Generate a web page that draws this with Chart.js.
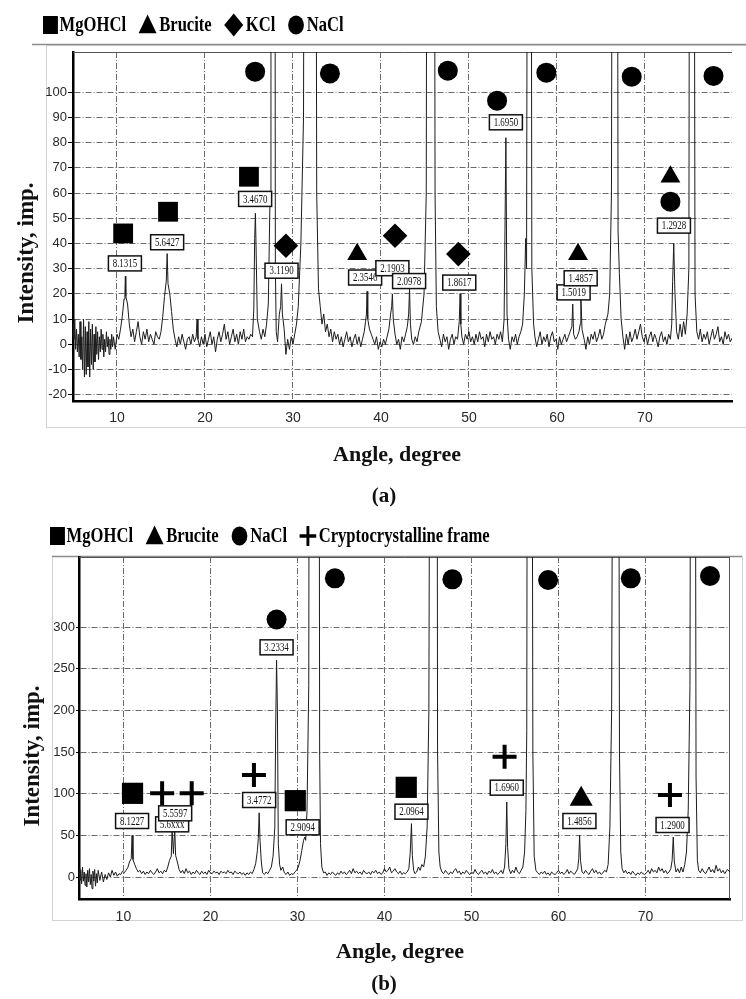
<!DOCTYPE html>
<html>
<head>
<meta charset="utf-8">
<script src="https://cdn.jsdelivr.net/npm/chart.js@4.4.1/dist/chart.umd.min.js"></script>
<style>
  html, body { margin: 0; padding: 0; background: #fff; }
  body { width: 746px; height: 999px; position: relative; overflow: hidden; }
  canvas { position: absolute; left: 0; }
  #chartA { top: 0; }
  #chartB { top: 515px; }
</style>
</head>
<body>
<canvas id="chartA" width="746" height="515"></canvas>
<canvas id="chartB" width="746" height="484"></canvas>
<script>
// ---- data: [angle, intensity] ----
const scanA = [
  [5.0,8],[5.1,2],[5.2,10],[5.3,-2],[5.4,6],[5.5,-3],[5.6,4],[5.7,-5],[5.8,9],[5.9,-6],
  [6.0,3],[6.1,-10],[6.2,10],[6.3,-13],[6.4,7],[6.5,-12],[6.6,5],[6.7,-9],[6.8,9],[6.9,-13],
  [7.0,6],[7.1,-8],[7.2,8],[7.3,-10],[7.4,4],[7.5,-7],[7.6,7],[7.7,-4],[7.8,5],[7.9,-6],
  [8.0,3],[8.1,-3],[8.2,6],[8.3,-2],[8.4,4],[8.5,-5],[8.6,2],[8.7,-3],[8.8,5],[8.9,-1],
  [9.0,3],[9.1,-4],[9.2,2],[9.3,-2],[9.4,4],[9.5,-1],[9.6,3],[9.8,-2],[10.0,4],[10.2,2],
  [10.4,6],[10.6,11],[10.8,18],[10.9,20],[10.95,27],[11.0,19],[11.2,16],[11.4,8],[11.6,3],[11.8,6],
  [12.0,1],[12.2,5],[12.4,9],[12.6,3],[12.8,0],[13.0,5],[13.2,2],[13.4,6],[13.6,1],[13.8,4],
  [14.0,2],[14.2,0],[14.4,5],[14.6,3],[14.8,2],[15.0,5],[15.2,11],[15.4,19],[15.6,25],[15.7,36],
  [15.8,24],[16.0,20],[16.2,13],[16.4,6],[16.6,2],[16.8,-1],[17.0,3],[17.2,0],[17.4,4],[17.6,1],
  [17.8,-2],[18.0,2],[18.2,3],[18.4,0],[18.6,4],[18.8,1],[19.0,3],[19.1,10],[19.2,2],[19.4,-1],
  [19.6,3],[19.8,0],[20.0,4],[20.2,-1],[20.4,2],[20.6,5],[20.8,0],[21.0,3],[21.2,-3],[21.4,2],
  [21.6,5],[21.8,1],[22.0,4],[22.2,8],[22.4,2],[22.6,5],[22.8,0],[23.0,3],[23.2,6],[23.4,1],
  [23.6,4],[23.8,0],[24.0,5],[24.2,2],[24.4,6],[24.6,1],[24.8,3],[25.0,2],[25.2,4],[25.4,3],
  [25.55,14],[25.65,42],[25.73,52],[25.8,40],[25.95,10],[26.2,5],[26.4,2],[26.6,6],[26.8,3],[27.0,8],
  [27.2,16],[27.4,60],[27.5,400],[27.9,400],[28.0,30],[28.1,5],[28.25,1],[28.45,12],[28.6,15],[28.7,24],
  [28.8,12],[29.0,6],[29.2,-4],[29.4,2],[29.6,-2],[29.8,3],[30.0,0],[30.2,4],[30.4,8],[30.6,15],
  [30.9,40],[31.2,90],[31.4,400],[32.5,400],[32.7,60],[32.9,22],[33.1,15],[33.3,8],[33.5,12],[33.7,5],
  [33.9,8],[34.1,3],[34.3,6],[34.5,1],[34.7,5],[34.9,2],[35.1,4],[35.3,0],[35.5,3],[35.7,-1],
  [35.9,2],[36.1,5],[36.3,1],[36.5,3],[36.7,-1],[36.9,2],[37.1,4],[37.3,0],[37.5,3],[37.7,-1],
  [37.9,2],[38.1,5],[38.25,9],[38.35,12],[38.42,21],[38.5,10],[38.7,6],[38.9,4],[39.1,2],[39.3,0],
  [39.5,3],[39.7,-2],[39.9,1],[40.1,-1],[40.3,2],[40.5,0],[40.7,3],[40.9,6],[41.1,12],[41.22,15],
  [41.3,20],[41.4,10],[41.6,4],[41.8,0],[42.0,2],[42.2,-2],[42.4,3],[42.6,1],[42.8,4],[43.0,7],
  [43.15,12],[43.25,22],[43.35,8],[43.5,2],[43.7,0],[43.9,3],[44.1,1],[44.3,5],[44.6,9],[44.9,20],
  [45.15,60],[45.3,400],[46.0,400],[46.15,60],[46.3,15],[46.5,5],[46.7,2],[46.9,-1],[47.1,4],[47.3,1],
  [47.5,3],[47.7,-2],[47.9,2],[48.1,4],[48.3,0],[48.5,3],[48.7,2],[48.9,9],[49.0,20],[49.08,8],
  [49.2,3],[49.4,0],[49.6,4],[49.8,2],[50.0,5],[50.2,1],[50.4,3],[50.6,0],[50.8,4],[51.0,1],
  [51.2,5],[51.4,2],[51.6,3],[51.8,-1],[52.0,4],[52.2,1],[52.4,5],[52.6,2],[52.8,3],[53.0,0],
  [53.2,4],[53.4,2],[53.6,5],[53.8,1],[54.0,10],[54.2,82],[54.33,12],[54.5,2],[54.7,-2],[54.9,3],
  [55.1,1],[55.3,4],[55.5,0],[55.7,3],[55.9,5],[56.1,8],[56.3,20],[56.45,42],[56.55,30],[56.75,400],
  [57.0,400],[57.15,30],[57.35,8],[57.5,3],[57.7,-1],[57.9,2],[58.1,5],[58.3,0],[58.5,3],[58.7,1],
  [58.9,4],[59.1,-1],[59.3,3],[59.5,5],[59.7,1],[59.9,2],[60.1,-2],[60.3,3],[60.5,0],[60.7,2],
  [60.9,4],[61.1,1],[61.3,3],[61.5,5],[61.7,7],[61.8,16],[61.9,4],[62.1,2],[62.3,3],[62.5,5],
  [62.65,8],[62.72,20],[62.85,6],[63.1,2],[63.3,-2],[63.5,3],[63.7,0],[63.9,4],[64.1,2],[64.3,5],
  [64.5,1],[64.7,3],[64.9,6],[65.1,2],[65.3,4],[65.5,8],[65.8,12],[66.0,20],[66.2,60],[66.4,400],
  [66.8,400],[66.95,45],[67.1,28],[67.3,10],[67.5,3],[67.7,-2],[67.9,4],[68.1,0],[68.3,5],[68.5,1],
  [68.7,3],[68.9,6],[69.1,2],[69.3,5],[69.5,8],[69.7,3],[69.9,1],[70.1,4],[70.3,0],[70.5,3],
  [70.7,5],[70.9,1],[71.1,4],[71.3,2],[71.5,-1],[71.7,3],[71.9,5],[72.1,1],[72.3,3],[72.5,0],
  [72.7,4],[72.9,2],[73.05,8],[73.15,25],[73.28,40],[73.4,22],[73.6,5],[73.8,2],[74.0,8],[74.2,3],
  [74.4,9],[74.6,4],[74.8,12],[75.0,30],[75.15,400],[75.5,400],[75.7,20],[75.9,5],[76.1,2],[76.3,6],
  [76.5,1],[76.7,4],[76.9,2],[77.1,5],[77.3,0],[77.5,3],[77.7,6],[77.9,2],[78.1,4],[78.3,7],
  [78.5,1],[78.7,3],[78.9,0],[79.1,5],[79.3,2],[79.5,4],[79.7,1],[80.0,3]
];

const scanB = [
  [4.9,10],[5.0,-4],[5.1,8],[5.2,-8],[5.3,12],[5.4,-5],[5.5,6],[5.6,-10],[5.7,4],[5.8,-12],
  [5.9,8],[6.0,-6],[6.1,10],[6.2,-9],[6.3,3],[6.4,-14],[6.5,7],[6.6,-5],[6.7,9],[6.8,-11],
  [6.9,4],[7.0,-7],[7.1,8],[7.3,-4],[7.5,6],[7.7,-6],[7.9,3],[8.1,-3],[8.3,5],[8.5,0],
  [8.7,8],[8.9,2],[9.1,6],[9.3,1],[9.5,4],[9.7,3],[9.9,7],[10.1,5],[10.3,8],[10.5,11],
  [10.7,18],[10.9,22],[11.0,50],[11.1,21],[11.3,15],[11.5,10],[11.7,6],[11.9,8],[12.1,4],[12.3,7],
  [12.5,3],[12.7,6],[12.9,4],[13.1,8],[13.3,5],[13.5,3],[13.7,6],[13.9,10],[14.1,5],[14.3,7],
  [14.5,4],[14.7,8],[14.9,6],[15.1,12],[15.3,20],[15.5,25],[15.6,56],[15.75,28],[15.9,59],[16.0,26],
  [16.2,18],[16.4,9],[16.6,5],[16.8,8],[17.0,4],[17.2,10],[17.4,5],[17.6,7],[17.8,3],[18.0,6],
  [18.2,4],[18.4,8],[18.6,5],[18.8,3],[19.0,7],[19.2,4],[19.4,6],[19.6,3],[19.8,8],[20.0,5],
  [20.2,4],[20.4,7],[20.6,5],[20.8,6],[21.0,3],[21.2,7],[21.4,5],[21.6,6],[21.8,4],[22.0,8],
  [22.2,5],[22.4,6],[22.6,3],[22.8,7],[23.0,5],[23.2,4],[23.4,6],[23.6,3],[23.8,5],[24.0,2],
  [24.2,5],[24.4,3],[24.6,6],[24.8,4],[25.0,9],[25.2,16],[25.4,32],[25.5,46],[25.6,77],[25.7,44],
  [25.85,18],[26.0,5],[26.2,3],[26.4,6],[26.6,4],[26.8,8],[27.0,12],[27.2,25],[27.4,60],[27.5,180],
  [27.6,260],[27.7,200],[27.8,40],[27.95,15],[28.1,8],[28.3,12],[28.5,5],[28.7,3],[28.9,6],[29.1,2],
  [29.3,4],[29.5,3],[29.7,6],[29.9,8],[30.1,12],[30.3,20],[30.5,32],[30.7,44],[30.85,48],[30.95,44],
  [31.1,80],[31.3,230],[31.4,1000],[32.45,1000],[32.55,150],[32.65,40],[32.8,12],[33.0,5],[33.2,6],[33.4,2],
  [33.6,5],[33.8,3],[34.0,6],[34.2,4],[34.4,2],[34.6,5],[34.8,3],[35.0,7],[35.2,4],[35.4,6],
  [35.6,3],[35.8,5],[36.0,8],[36.2,4],[36.4,10],[36.6,5],[36.8,7],[37.0,4],[37.2,6],[37.4,3],
  [37.6,8],[37.8,5],[38.0,4],[38.2,6],[38.4,3],[38.6,7],[38.8,5],[39.0,8],[39.2,4],[39.4,6],
  [39.6,3],[39.8,5],[40.0,10],[40.2,6],[40.4,8],[40.6,12],[40.8,5],[41.0,7],[41.2,10],[41.4,6],
  [41.6,4],[41.8,7],[42.0,3],[42.2,5],[42.4,4],[42.6,6],[42.8,10],[42.95,28],[43.1,64],[43.2,26],
  [43.35,8],[43.5,4],[43.7,6],[43.9,12],[44.1,8],[44.3,15],[44.5,12],[44.7,25],[44.9,60],[45.1,200],
  [45.3,1000],[46.0,1000],[46.1,150],[46.25,30],[46.4,12],[46.6,6],[46.8,4],[47.0,8],[47.2,5],[47.4,3],
  [47.6,6],[47.8,4],[48.0,8],[48.2,10],[48.4,5],[48.6,7],[48.8,3],[49.0,6],[49.2,4],[49.4,8],
  [49.6,5],[49.8,3],[50.0,6],[50.2,4],[50.4,9],[50.6,5],[50.8,3],[51.0,6],[51.2,8],[51.4,4],
  [51.6,6],[51.8,3],[52.0,7],[52.2,5],[52.4,9],[52.6,4],[52.8,6],[53.0,3],[53.2,5],[53.4,8],
  [53.6,4],[53.8,12],[53.95,40],[54.05,90],[54.15,35],[54.3,10],[54.5,4],[54.7,8],[54.9,5],[55.1,12],
  [55.3,6],[55.5,4],[55.7,8],[55.9,12],[56.1,30],[56.25,80],[56.35,176],[56.45,1000],[56.9,1000],[57.05,150],
  [57.2,25],[57.4,8],[57.6,5],[57.8,3],[58.0,6],[58.2,4],[58.4,7],[58.6,3],[58.8,5],[59.0,2],
  [59.2,6],[59.4,4],[59.6,3],[59.8,5],[60.0,8],[60.2,4],[60.4,6],[60.6,3],[60.8,5],[61.0,9],
  [61.2,4],[61.4,7],[61.6,5],[61.8,3],[62.0,6],[62.2,10],[62.32,22],[62.42,50],[62.52,20],[62.7,6],
  [62.9,4],[63.1,8],[63.3,5],[63.5,3],[63.7,7],[63.9,10],[64.1,5],[64.3,8],[64.5,4],[64.7,6],
  [64.9,3],[65.1,5],[65.3,8],[65.5,6],[65.7,15],[65.9,60],[66.1,200],[66.35,1000],[66.85,1000],[67.0,150],
  [67.15,30],[67.3,10],[67.5,5],[67.7,8],[67.9,4],[68.1,6],[68.3,3],[68.5,7],[68.7,4],[68.9,2],
  [69.1,5],[69.3,3],[69.5,6],[69.7,4],[69.9,3],[70.1,5],[70.3,8],[70.5,4],[70.7,10],[70.9,6],
  [71.1,8],[71.3,5],[71.5,12],[71.7,7],[71.9,10],[72.1,5],[72.3,8],[72.5,4],[72.7,6],[72.9,10],
  [73.05,20],[73.18,48],[73.3,18],[73.5,6],[73.7,10],[73.9,5],[74.1,12],[74.3,6],[74.5,15],[74.7,30],
  [74.9,80],[75.1,230],[75.25,1000],[75.65,1000],[75.8,120],[75.95,20],[76.1,8],[76.3,5],[76.5,10],[76.7,6],
  [76.9,4],[77.1,8],[77.3,12],[77.5,6],[77.7,9],[77.9,5],[78.1,14],[78.3,7],[78.5,10],[78.7,5],
  [78.9,8],[79.1,4],[79.4,9],[79.7,6]
];

// phase markers [angle, intensity]
const mgohclA = [[10.7, 44], [15.8, 52.6], [25.0, 66.5]];
const bruciteA = [[37.3, 35.7], [62.4, 35.7], [72.9, 66.5]];
const kclA = [[29.2, 39.1], [41.6, 43.1], [48.8, 35.8]];
const naclA = [[25.7, 108.2], [34.2, 107.5], [47.6, 108.6], [53.2, 96.7], [58.8, 107.8], [68.5, 106.2], [72.9, 56.6], [77.8, 106.5]];

const mgohclB = [[11.05, 100.4], [29.75, 91.6], [42.5, 107.6]];
const bruciteB = [[62.6, 93.6]];
const naclB = [[27.6, 309], [34.3, 358.4], [47.8, 357.2], [58.8, 356.4], [68.3, 358.4], [77.4, 361.2]];
const frameB = [[14.45, 100.4], [17.85, 100.4], [25.0, 122.4], [53.8, 144.4], [72.8, 98.4]];

// d-spacing boxes [angle, intensity, text]
const boxesA = [
  [10.9, 32.1, '8.1315'], [15.7, 40.5, '5.6427'], [25.7, 57.7, '3.4670'], [28.7, 29.2, '3.1190'],
  [38.2, 26.5, '2.3546'], [41.3, 30.2, '2.1903'], [43.2, 25.1, '2.0978'], [48.9, 24.5, '1.8617'],
  [54.2, 88.1, '1.6950'], [61.9, 20.6, '1.5019'], [62.7, 26.2, '1.4857'], [73.3, 47.1, '1.2928']
];
const boxesB = [
  [11.0, 67.2, '8.1227'], [15.6, 63.2, '5.6xxx'], [15.95, 76.4, '5.5597'], [25.6, 92.4, '3.4772'],
  [27.6, 275.6, '3.2334'], [30.6, 59.6, '2.9094'], [43.1, 78.4, '2.0964'], [54.05, 107.2, '1.6960'],
  [62.4, 67.2, '1.4856'], [73.1, 62.4, '1.2900']
];

const xTicks = [10, 20, 30, 40, 50, 60, 70];
const yTicksA = [-20, -10, 0, 10, 20, 30, 40, 50, 60, 70, 80, 90, 100];
const yTicksB = [0, 50, 100, 150, 200, 250, 300];

const SERIF = '"Liberation Serif", "Times New Roman", serif';
Chart.defaults.font.family = '"Liberation Sans Narrow", "Liberation Sans", Arial, sans-serif';
Chart.defaults.color = '#2a2a2a';

const toXY = arr => arr.map(p => ({ x: p[0], y: p[1] }));

function marker(label, points, style, radius, legend) {
  return {
    label, data: toXY(points), showLine: false, pointStyle: style, pointRadius: radius,
    pointHoverRadius: radius, backgroundColor: '#000', borderColor: '#000',
    borderWidth: style === 'cross' ? 4 : 0, order: 1, legend
  };
}

function drawSymbol(ctx, style, r, lw, x, y) {
  if (Chart.helpers && Chart.helpers.drawPoint) {
    Chart.helpers.drawPoint(ctx, { pointStyle: style, radius: r, borderWidth: lw, rotation: 0 }, x, y);
  }
}

// boxes with the d-spacing text, drawn right after the scan line
const peakBoxes = {
  id: 'peakBoxes',
  afterDatasetDraw(chart, args, o) {
    if (args.index !== 0) return;
    const { ctx, scales: { x, y } } = chart;
    ctx.save();
    o.items.forEach(b => {
      const px = x.getPixelForValue(b[0]);
      const py = y.getPixelForValue(b[1]);
      const w = o.w, h = o.h;
      ctx.fillStyle = '#fff';
      ctx.strokeStyle = '#111';
      ctx.lineWidth = 1.5;
      ctx.fillRect(px - w / 2, py - h / 2, w, h);
      ctx.strokeRect(px - w / 2, py - h / 2, w, h);
      ctx.save();
      ctx.translate(px, py + 0.5);
      ctx.scale(0.74, 1);
      ctx.font = '12px ' + SERIF;
      ctx.fillStyle = '#111';
      ctx.textAlign = 'center';
      ctx.textBaseline = 'middle';
      ctx.fillText(b[2], 0, 0);
      ctx.restore();
    });
    ctx.restore();
  }
};

// frames, legend and titles
const decor = {
  id: 'decor',
  beforeDraw(chart, args, o) {
    const ctx = chart.ctx;
    ctx.save();
    ctx.fillStyle = '#fff';
    ctx.fillRect(0, 0, chart.width, chart.height);
    const f = o.frame;
    ctx.strokeStyle = '#d2d2d2';
    ctx.lineWidth = 1;
    ctx.strokeRect(f[0] + 0.5, f[1] + 0.5, f[2] - f[0], f[3] - f[1]);
    ctx.strokeStyle = '#8c8c8c';
    ctx.lineWidth = 1.5;
    ctx.beginPath();
    ctx.moveTo(o.topLine[0], o.topLine[2]);
    ctx.lineTo(o.topLine[1], o.topLine[2]);
    ctx.stroke();
    ctx.restore();
  },
  beforeDatasetsDraw(chart, args, o) {
    const { ctx, chartArea: a } = chart;
    ctx.save();
    ctx.strokeStyle = '#555';
    ctx.lineWidth = 1;
    ctx.beginPath();
    ctx.moveTo(a.left, a.top + 0.5);
    ctx.lineTo(a.right, a.top + 0.5);
    if (o.rightBorder) {
      ctx.moveTo(a.right - 0.5, a.top);
      ctx.lineTo(a.right - 0.5, a.bottom);
    }
    ctx.stroke();
    ctx.restore();
  },
  afterDraw(chart, args, o) {
    const ctx = chart.ctx;
    // legend, horizontally condensed like the original
    ctx.save();
    ctx.translate(o.legendX, o.legendY);
    ctx.scale(0.83, 1);
    ctx.font = 'bold 20px ' + SERIF;
    ctx.textBaseline = 'middle';
    ctx.fillStyle = '#000';
    ctx.strokeStyle = '#000';
    let cx = 0;
    chart.data.datasets.filter(d => d.legend).forEach(d => {
      const L = d.legend;
      ctx.lineWidth = L.lw;
      drawSymbol(ctx, d.pointStyle, L.r, L.lw, cx + L.w / 2, L.dy || 0);
      cx += L.w + 2;
      ctx.fillText(d.label, cx, 1);
      cx += ctx.measureText(d.label).width + 14;
    });
    ctx.restore();

    ctx.save();
    ctx.fillStyle = '#111';
    ctx.textAlign = 'center';
    ctx.textBaseline = 'middle';
    ctx.font = 'bold 22px ' + SERIF;
    ctx.fillText(o.xTitle, o.xTitlePos[0], o.xTitlePos[1]);
    ctx.save();
    ctx.translate(o.yTitlePos[0], o.yTitlePos[1]);
    ctx.rotate(-Math.PI / 2);
    ctx.font = 'bold 23px ' + SERIF;
    ctx.fillText(o.yTitle, 0, 0);
    ctx.restore();
    ctx.font = 'bold 21px ' + SERIF;
    ctx.fillText(o.panel, o.panelPos[0], o.panelPos[1]);
    ctx.restore();
  }
};

function buildChart(id, p) {
  return new Chart(document.getElementById(id), {
    type: 'line',
    data: {
      datasets: [
        { label: 'scan', data: toXY(p.scan), borderColor: '#1c1c1c', borderWidth: 1,
          pointRadius: 0, tension: 0, order: 2 },
        ...p.markers
      ]
    },
    options: {
      responsive: false,
      animation: false,
      events: [],
      layout: { padding: { top: p.top, right: p.right, left: 0, bottom: 0 } },
      plugins: {
        legend: { display: false },
        tooltip: { enabled: false },
        peakBoxes: { items: p.boxes, w: 33, h: 15 },
        decor: p.decor
      },
      scales: {
        x: {
          type: 'linear', min: p.xMin, max: p.xMax,
          afterBuildTicks: s => { s.ticks = xTicks.map(v => ({ value: v })); },
          afterFit: s => { s.height = p.xAxisH; },
          ticks: { padding: p.xPad, font: { size: 14 } },
          grid: { color: '#6a6a6a', lineWidth: 1, drawTicks: false },
          border: { display: true, color: '#000', width: 2.5, dash: [6, 2, 1, 2] }
        },
        y: {
          type: 'linear', min: p.yMin, max: p.yMax,
          afterBuildTicks: s => { s.ticks = p.yTicks.map(v => ({ value: v })); },
          afterFit: s => { s.width = p.yAxisW; },
          ticks: { padding: 1, font: { size: 13 } },
          grid: { color: '#6a6a6a', lineWidth: 1, tickLength: p.tickLen,
                  tickColor: '#000', tickBorderDash: [] },
          border: { display: true, color: '#000', width: 2.5, dash: [6, 2, 1, 2] }
        }
      }
    },
    plugins: [peakBoxes, decor]
  });
}

buildChart('chartA', {
  scan: scanA, boxes: boxesA,
  markers: [
    marker('MgOHCl', mgohclA, 'rect', 14, { w: 18, r: 12.7, lw: 0 }),
    marker('Brucite', bruciteA, 'triangle', 11.5, { w: 24, r: 12.5, lw: 0, dy: 2 }),
    marker('KCl', kclA, 'rectRot', 12.3, { w: 25, r: 11.5, lw: 0 }),
    marker('NaCl', naclA, 'circle', 10, { w: 22, r: 9.5, lw: 0 })
  ],
  xMin: 5, xMax: 79.9, yMin: -22.5, yMax: 116, yTicks: yTicksA,
  top: 52, right: 0, yAxisW: 73, xAxisH: 114, xPad: 9, tickLen: 5,
  decor: {
    frame: [46, 45, 760, 427], topLine: [32, 746, 44.5], rightBorder: false,
    legendX: 43, legendY: 25,
    xTitle: 'Angle, degree', xTitlePos: [397, 455],
    yTitle: 'Intensity, imp.', yTitlePos: [27, 253],
    panel: '(a)', panelPos: [384, 497]
  }
});

buildChart('chartB', {
  scan: scanB, boxes: boxesB,
  markers: [
    marker('MgOHCl', mgohclB, 'rect', 15, { w: 18, r: 12.7, lw: 0 }),
    marker('Brucite', bruciteB, 'triangle', 13.3, { w: 24, r: 12.5, lw: 0, dy: 2 }),
    marker('NaCl', naclB, 'circle', 10, { w: 22, r: 9.5, lw: 0 }),
    marker('Cryptocrystalline frame', frameB, 'cross', 12, { w: 22, r: 10, lw: 3.5 })
  ],
  xMin: 4.9, xMax: 79.7, yMin: -26.4, yMax: 384, yTicks: yTicksB,
  top: 42, right: 7, yAxisW: 79, xAxisH: 100, xPad: 10, tickLen: 3,
  decor: {
    frame: [52, 41, 742, 405], topLine: [52, 742, 41.5], rightBorder: true,
    legendX: 50, legendY: 21,
    xTitle: 'Angle, degree', xTitlePos: [400, 437],
    yTitle: 'Intensity, imp.', yTitlePos: [33, 241],
    panel: '(b)', panelPos: [384, 470]
  }
});
</script>
</body>
</html>
